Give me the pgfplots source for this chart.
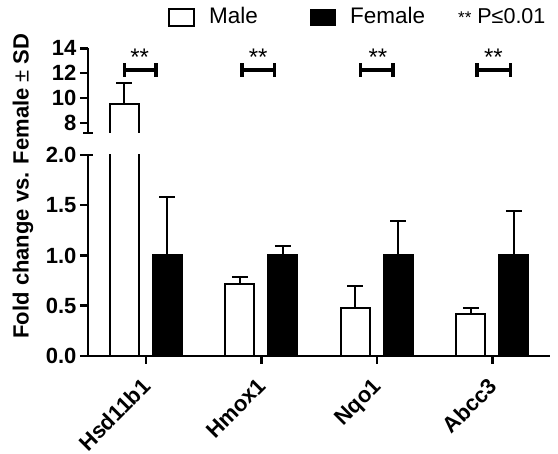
\documentclass[border=0pt]{standalone}
\usepackage{pgfplots}
\pgfplotsset{compat=1.18}
\usepackage{fontspec}
\setmainfont{Liberation Sans}
\newcommand{\sigbracket}[3]{%
  \draw[line width=3.5pt] (axis cs:#1,11.7) -- (axis cs:#1,12.82);
  \draw[line width=3.5pt] (axis cs:#2,11.7) -- (axis cs:#2,12.82);
  \draw[line width=3.5pt] (axis cs:#1,12.26) -- (axis cs:#2,12.26);
  \node[anchor=base, inner sep=0pt, font=\fontsize{24}{24}\selectfont] at (axis cs:#3,12.6) {**};
}
\begin{document}
\begin{tikzpicture}
\useasboundingbox (0pt,0pt) rectangle (558pt,454pt);
\pgfplotsset{
  common/.style={
    scale only axis, width=462pt, xmin=-0.5, xmax=3.5,
    anchor=south west,
    tick align=outside, major tick length=8pt,
    tick style={black, line width=2.5pt},
    axis line style={line width=2.5pt},
    /pgf/number format/assume math mode=true,
    ticklabel style={font=\bfseries\fontsize{22}{22}\selectfont},
    ybar, bar width=29pt,
  },
  maleplot/.style={draw=black, fill=white, line width=2pt, bar shift=-21.5pt,
    error bars/.cd, y dir=plus, y explicit,
    error bar style={line width=2pt, black},
    error mark options={rotate=90, line width=2pt, black, mark size=8pt}},
  femaleplot/.style={draw=black, fill=black, line width=2pt, bar shift=21.5pt,
    error bars/.cd, y dir=plus, y explicit,
    error bar style={line width=2pt, black},
    error mark options={rotate=90, line width=2pt, black, mark size=8pt}},
}
% lower axis
\begin{axis}[common, name=lower, at={(88pt,98pt)}, height=201pt, ymin=0, ymax=2,
  axis x line*=bottom, axis y line*=left,
  ytick={0,0.5,1,1.5,2},
  yticklabel style={/pgf/number format/.cd, fixed, fixed zerofill, precision=1},
  xtick={0,1,2,3}, xticklabels={Hsd11b1,Hmox1,Nqo1,Abcc3},
  xticklabel style={rotate=45, anchor=north east, xshift=-9pt, yshift=-2pt},
]
\addplot[maleplot] coordinates {(0,9.5) +- (0,1.7) (1,0.715) +- (0,0.07) (2,0.48) +- (0,0.22) (3,0.42) +- (0,0.055)};
\addplot[femaleplot] coordinates {(0,1) +- (0,0.58) (1,1) +- (0,0.09) (2,1) +- (0,0.34) (3,1) +- (0,0.44)};
\end{axis}
% upper axis
\begin{axis}[common, name=upper, at={(88pt,321pt)}, height=84.7pt, ymin=7.2, ymax=14,
  axis y line*=left, axis x line=none, ytick={8,10,12,14}, xtick=\empty]
\addplot[maleplot] coordinates {(0,9.5) +- (0,1.7)};
% open bottom of the broken bar
\draw[white, line width=3pt] (axis cs:0,7.2) ++(-34.8pt,0pt) -- ++(26.6pt,0pt);
\sigbracket{-0.182}{0.087}{-0.052}
\sigbracket{0.835}{1.113}{0.974}
\sigbracket{1.861}{2.139}{2.01}
\sigbracket{2.870}{3.156}{3.01}
\end{axis}
% axis break caps
\draw[line width=2.5pt] (lower.north west) -- ++(5pt,0pt);
\draw[line width=2.5pt] (upper.south west) ++(-5pt,0pt) -- ++(10pt,0pt);
% y label
\node[rotate=90, inner sep=0pt, font=\bfseries\fontsize{22}{22}\selectfont] at (23pt,268pt) {Fold change vs. Female {\mdseries ±} SD};
% legend
\draw[line width=2pt, fill=white] (169pt,428pt) rectangle (194pt,445pt);
\node[anchor=base west, inner sep=0pt, font=\fontsize{22.5}{22.5}\selectfont] at (209pt,430pt) {Male};
\fill[black] (310pt,428pt) rectangle (336pt,445pt);
\node[anchor=base west, inner sep=0pt, font=\fontsize{22.5}{22.5}\selectfont] at (350pt,430pt) {Female};
\node[anchor=base west, inner sep=0pt, font=\fontsize{21.5}{21.5}\selectfont] at (458pt,430pt) {{\fontsize{17}{17}\selectfont **} P≤0.01};
\end{tikzpicture}
\end{document}
